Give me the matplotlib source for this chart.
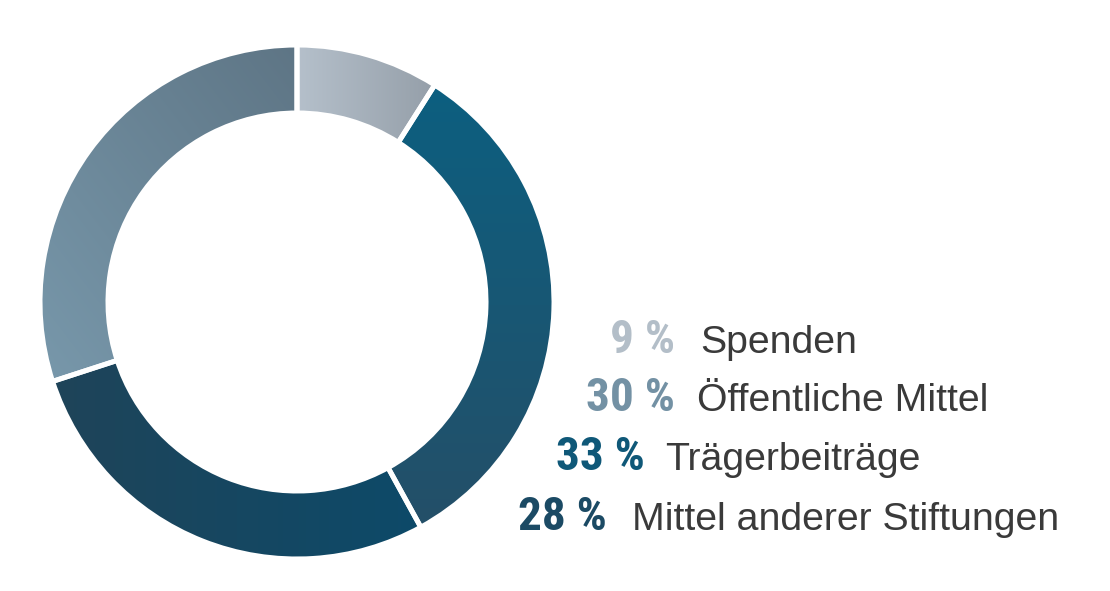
import numpy as np
import matplotlib
matplotlib.use("Agg")
import matplotlib.pyplot as plt
from matplotlib.colors import LinearSegmentedColormap

# Data (clockwise from top)
categories = ["Spenden", "Trägerbeiträge", "Mittel anderer Stiftungen", "Öffentliche Mittel"]
values = [9, 33, 28, 30]
pct_labels = ["9 %", "33 %", "28 %", "30 %"]

# legend order (top to bottom)
legend_order = [0, 3, 1, 2]

# gradient specs per segment: (start colour, end colour, direction)
grad = [
    ("#b5c0cb", "#959fa9", "h"),
    ("#0c5f80", "#244f68", "v"),
    ("#1f4459", "#0d4a69", "h"),
    ("#7898ab", "#5e7585", "d"),
]
pct_colors = ["#b3bec8", "#0f5878", "#1b4a64", "#7391a4"]
label_color = "#3a3a3a"

W, H = 1110, 591
fig = plt.figure(figsize=(W / 100, H / 100), dpi=100)
fig.patch.set_facecolor("white")

# donut axes: centre (297,302) px, radius 257 px
cx, cy, R = 297, 302, 257
ax = fig.add_axes([(cx - R) / W, (H - cy - R) / H, 2 * R / W, 2 * R / H])
ax.set_xlim(-1, 1)
ax.set_ylim(-1, 1)
ax.set_aspect("equal")
ax.axis("off")

ring = 68 / R
wedges, _ = ax.pie(values, startangle=90, counterclock=False, radius=1,
                   wedgeprops=dict(width=ring, edgecolor="white", linewidth=3.6))

for w, (c0, c1, d) in zip(wedges, grad):
    bb = w.get_path().get_extents()
    n = 256
    t = np.linspace(0, 1, n)
    if d == "h":
        img = np.tile(t, (n, 1))
    elif d == "v":
        img = np.tile(t[:, None], (1, n))  # top -> bottom (origin upper)
    else:
        X, Y = np.meshgrid(t, t)
        img = (X + (1 - Y)) / 2  # bottom-left -> top-right
    cmap = LinearSegmentedColormap.from_list("g", [c0, c1])
    im = ax.imshow(img, cmap=cmap, extent=[bb.x0, bb.x1, bb.y0, bb.y1],
                   origin="upper", aspect="auto", zorder=1, interpolation="bilinear")
    im.set_clip_path(w)
    w.set_facecolor("none")
    w.set_zorder(3)

ax.set_xlim(-1, 1)
ax.set_ylim(-1, 1)

# legend text in pixel coordinates
tax = fig.add_axes([0, 0, 1, 1])
tax.set_xlim(0, W)
tax.set_ylim(H, 0)
tax.axis("off")
tax.patch.set_alpha(0)

pct_right = [675, 675, 645, 607]
lab_left = [700, 697, 665, 632]
baselines = [353, 411, 470, 530]

for row, idx in enumerate(legend_order):
    tax.text(pct_right[row], baselines[row], pct_labels[idx], ha="right", va="baseline",
             fontsize=34, fontweight="bold", color=pct_colors[idx],
             family=["Roboto Condensed", "DejaVu Sans"])
    tax.text(lab_left[row], baselines[row], categories[idx], ha="left", va="baseline",
             fontsize=28.3, color=label_color,
             family=["Liberation Sans", "DejaVu Sans"])

fig.savefig("out.png", dpi=100, facecolor="white")
